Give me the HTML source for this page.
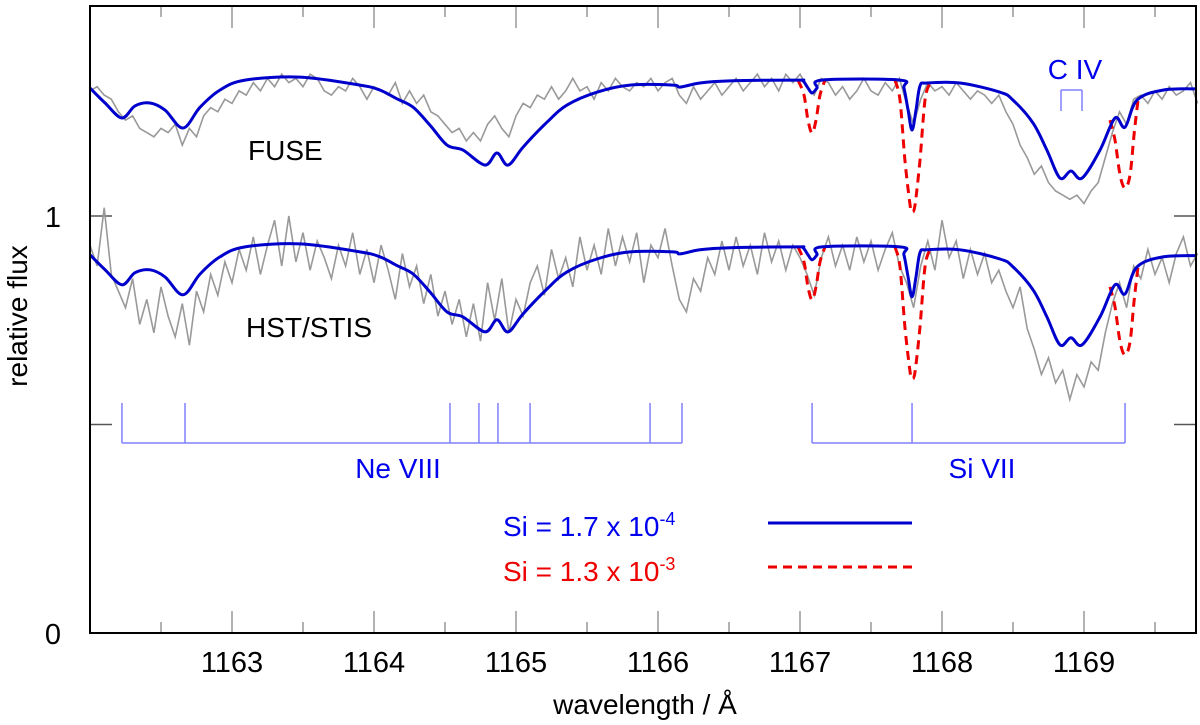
<!DOCTYPE html>
<html><head><meta charset="utf-8">
<style>
html,body{margin:0;padding:0;background:#fff;}
svg{display:block;font-family:"Liberation Sans",sans-serif;}
</style></head>
<body>
<svg id="chart" width="1200" height="725" viewBox="0 0 1200 725" xmlns="http://www.w3.org/2000/svg">
<g id="ticks"></g>
<g id="obs"></g>
<g id="markers"></g>
<g id="models"></g>
<rect x="90" y="6" width="1106" height="627" fill="none" stroke="#000" stroke-width="2"/>
<g id="labels" font-size="29" fill="#000"></g>
<text x="645" y="714" font-size="28" text-anchor="middle">wavelength / Å</text>
<text transform="translate(27,316) rotate(-90)" font-size="28" text-anchor="middle">relative flux</text>
<text x="248" y="160" font-size="28">FUSE</text>
<text x="246" y="337" font-size="28">HST/STIS</text>
<text x="398" y="478" font-size="28" fill="#0000ee" text-anchor="middle">Ne VIII</text>
<text x="982" y="478" font-size="28" fill="#0000ee" text-anchor="middle">Si VII</text>
<text x="1075" y="79" font-size="28" fill="#0000ee" text-anchor="middle">C IV</text>
<g>
<text x="503" y="536" font-size="28" fill="#0000ee">Si = 1.7 x 10<tspan dy="-11" font-size="18">-4</tspan></text>
<line x1="768" y1="523" x2="912" y2="523" stroke="#0000cc" stroke-width="3"/>
<text x="503" y="581" font-size="28" fill="#ee0000">Si = 1.3 x 10<tspan dy="-11" font-size="18">-3</tspan></text>
<line x1="768" y1="567" x2="912" y2="567" stroke="#ee0000" stroke-width="3" stroke-dasharray="9,6"/>
</g>
</svg>
<script>
const xTicks=[1163,1164,1165,1166,1167,1168,1169];
const yTickLabels=["0","1"];
const yTickValues=[0,1];
const yMinorTicks=[0.5];
const modelLambda=[1162.000,1162.106,1162.225,1162.317,1162.423,1162.528,1162.655,1162.775,1162.915,1163.092,1163.479,1163.901,1164.042,1164.162,1164.275,1164.394,1164.514,1164.627,1164.782,1164.866,1164.944,1165.049,1165.218,1165.359,1165.570,1165.803,1166.106,1166.155,1166.296,1166.507,1166.979,1167.021,1167.056,1167.085,1167.120,1167.155,1167.704,1167.732,1167.761,1167.789,1167.817,1167.845,1167.894,1168.127,1168.408,1168.500,1168.641,1168.739,1168.831,1168.908,1168.986,1169.113,1169.218,1169.289,1169.373,1169.556,1169.796];
const modelFuse=[1.307,1.271,1.235,1.264,1.271,1.254,1.211,1.261,1.302,1.326,1.333,1.314,1.302,1.281,1.261,1.218,1.170,1.158,1.122,1.151,1.122,1.165,1.225,1.266,1.297,1.314,1.314,1.309,1.319,1.324,1.326,1.324,1.307,1.295,1.307,1.326,1.326,1.307,1.254,1.206,1.254,1.312,1.319,1.319,1.297,1.278,1.223,1.158,1.091,1.108,1.091,1.158,1.235,1.213,1.278,1.302,1.305];
const modelHst=[0.907,0.871,0.835,0.864,0.871,0.854,0.811,0.861,0.902,0.926,0.933,0.914,0.902,0.881,0.861,0.818,0.770,0.758,0.722,0.751,0.722,0.765,0.825,0.866,0.897,0.914,0.914,0.909,0.919,0.924,0.926,0.924,0.907,0.895,0.907,0.926,0.926,0.907,0.854,0.806,0.854,0.912,0.919,0.919,0.897,0.878,0.823,0.758,0.691,0.708,0.691,0.758,0.835,0.813,0.878,0.902,0.905];
const redLambda=[1166.986,1167.028,1167.056,1167.085,1167.113,1167.141,1167.176,null,1167.669,1167.704,1167.739,1167.775,1167.789,1167.810,1167.845,1167.880,1167.915,null,1169.183,1169.218,1169.254,1169.289,1169.324,1169.352,1169.380];
const redFuse=[1.326,1.290,1.230,1.199,1.230,1.290,1.326,null,1.326,1.278,1.134,1.026,1.010,1.026,1.134,1.278,1.319,null,1.230,1.182,1.098,1.067,1.098,1.194,1.278];
const redHst=[0.926,0.890,0.830,0.799,0.830,0.890,0.926,null,0.926,0.878,0.734,0.626,0.610,0.626,0.734,0.878,0.919,null,0.830,0.782,0.698,0.667,0.698,0.794,0.878];
const obsLambda=[1162.00,1162.05,1162.10,1162.15,1162.20,1162.25,1162.30,1162.35,1162.40,1162.45,1162.50,1162.55,1162.60,1162.65,1162.70,1162.75,1162.80,1162.85,1162.90,1162.95,1163.00,1163.05,1163.10,1163.15,1163.20,1163.25,1163.30,1163.35,1163.40,1163.45,1163.50,1163.55,1163.60,1163.65,1163.70,1163.75,1163.80,1163.85,1163.90,1163.95,1164.00,1164.05,1164.10,1164.15,1164.20,1164.25,1164.30,1164.35,1164.40,1164.45,1164.50,1164.55,1164.60,1164.65,1164.70,1164.75,1164.80,1164.85,1164.90,1164.95,1165.00,1165.05,1165.10,1165.15,1165.20,1165.25,1165.30,1165.35,1165.40,1165.45,1165.50,1165.55,1165.60,1165.65,1165.70,1165.75,1165.80,1165.85,1165.90,1165.95,1166.00,1166.05,1166.10,1166.15,1166.20,1166.25,1166.30,1166.35,1166.40,1166.45,1166.50,1166.55,1166.60,1166.65,1166.70,1166.75,1166.80,1166.85,1166.90,1166.95,1167.00,1167.05,1167.10,1167.15,1167.20,1167.25,1167.30,1167.35,1167.40,1167.45,1167.50,1167.55,1167.60,1167.65,1167.70,1167.75,1167.80,1167.85,1167.90,1167.95,1168.00,1168.05,1168.10,1168.15,1168.20,1168.25,1168.30,1168.35,1168.40,1168.45,1168.50,1168.55,1168.60,1168.65,1168.70,1168.75,1168.80,1168.85,1168.90,1168.95,1169.00,1169.05,1169.10,1169.15,1169.20,1169.25,1169.30,1169.35,1169.40,1169.45,1169.50,1169.55,1169.60,1169.65,1169.70,1169.75,1169.80];
const obsFuse=[1.30,1.31,1.29,1.28,1.25,1.23,1.24,1.21,1.20,1.19,1.21,1.20,1.22,1.17,1.21,1.19,1.24,1.26,1.25,1.28,1.27,1.30,1.29,1.32,1.30,1.33,1.31,1.34,1.32,1.33,1.31,1.34,1.33,1.30,1.29,1.31,1.30,1.33,1.31,1.28,1.31,1.30,1.29,1.32,1.27,1.30,1.27,1.29,1.25,1.24,1.22,1.20,1.21,1.18,1.20,1.18,1.22,1.24,1.21,1.19,1.24,1.27,1.26,1.29,1.28,1.31,1.28,1.30,1.33,1.30,1.31,1.28,1.32,1.30,1.33,1.31,1.30,1.32,1.31,1.33,1.30,1.32,1.33,1.29,1.27,1.31,1.28,1.30,1.32,1.29,1.31,1.33,1.30,1.32,1.34,1.31,1.33,1.30,1.34,1.32,1.34,1.31,1.29,1.33,1.32,1.29,1.31,1.28,1.30,1.33,1.30,1.29,1.32,1.30,1.33,1.27,1.22,1.28,1.32,1.30,1.31,1.29,1.32,1.30,1.28,1.30,1.29,1.27,1.29,1.25,1.22,1.17,1.14,1.10,1.12,1.08,1.06,1.05,1.04,1.05,1.03,1.06,1.08,1.14,1.20,1.25,1.22,1.28,1.29,1.27,1.30,1.28,1.31,1.29,1.30,1.32,1.27];
const obsHst=[0.93,0.88,1.02,0.86,0.82,0.78,0.85,0.74,0.80,0.72,0.83,0.76,0.71,0.79,0.69,0.82,0.77,0.86,0.81,0.89,0.84,0.92,0.87,0.95,0.86,0.93,0.99,0.88,1.00,0.89,0.96,0.87,0.94,0.90,0.85,0.93,0.88,0.96,0.86,0.92,0.84,0.93,0.87,0.80,0.91,0.83,0.88,0.79,0.86,0.76,0.82,0.74,0.80,0.71,0.79,0.70,0.84,0.75,0.85,0.72,0.80,0.76,0.84,0.88,0.81,0.92,0.85,0.90,0.83,0.95,0.87,0.93,0.86,0.97,0.88,0.95,0.89,0.96,0.84,0.93,0.90,0.97,0.88,0.80,0.77,0.85,0.82,0.90,0.86,0.94,0.87,0.95,0.88,0.93,0.86,0.96,0.89,0.94,0.87,0.93,0.90,0.86,0.81,0.90,0.95,0.88,0.93,0.87,0.95,0.89,0.94,0.87,0.92,0.96,0.88,0.84,0.78,0.88,0.94,0.87,0.99,0.90,0.94,0.85,0.92,0.86,0.91,0.84,0.87,0.82,0.78,0.83,0.73,0.68,0.62,0.66,0.60,0.63,0.56,0.62,0.59,0.65,0.63,0.72,0.79,0.84,0.78,0.88,0.85,0.92,0.86,0.90,0.84,0.91,0.95,0.88,0.91];
const neViiiLines=[1162.225,1162.669,1164.535,1164.739,1164.873,1165.099,1165.944,1166.169];
const siViiLines=[1167.085,1167.789,1169.289];
const cIvLines=[1168.838,1168.986];

const NS="http://www.w3.org/2000/svg";
const X0=90,PXA=142,LMIN=1162,Y0=633,PXF=417;
function xs(l){return X0+(l-LMIN)*PXA;}
function ys(f){return Y0-f*PXF;}
function mk(tag,attrs,parent){const e=document.createElementNS(NS,tag);for(const k in attrs)e.setAttribute(k,attrs[k]);parent.appendChild(e);return e;}
function pathD(L,F){let d="",pen=false;for(let i=0;i<Math.min(L.length,F.length);i++){if(L[i]===null||F[i]===null){pen=false;continue;}d+=(pen?"L":"M")+xs(L[i]).toFixed(1)+","+ys(F[i]).toFixed(1);pen=true;}return d;}
function smoothD(L,F){
  const segs=[];let cur=[];
  for(let i=0;i<Math.min(L.length,F.length);i++){if(L[i]===null||F[i]===null){if(cur.length)segs.push(cur);cur=[];continue;}cur.push([xs(L[i]),ys(F[i])]);}
  if(cur.length)segs.push(cur);
  let d="";
  segs.forEach(p=>{d+="M"+p[0][0].toFixed(1)+","+p[0][1].toFixed(1);
    for(let i=0;i<p.length-1;i++){const p0=p[i>0?i-1:i],p1=p[i],p2=p[i+1],p3=p[i+2<p.length?i+2:i+1];
      const c1x=p1[0]+(p2[0]-p0[0])/6,c1y=p1[1]+(p2[1]-p0[1])/6,c2x=p2[0]-(p3[0]-p1[0])/6,c2y=p2[1]-(p3[1]-p1[1])/6;
      d+="C"+c1x.toFixed(1)+","+c1y.toFixed(1)+" "+c2x.toFixed(1)+","+c2y.toFixed(1)+" "+p2[0].toFixed(1)+","+p2[1].toFixed(1);}
  });
  return d;
}

const tg=document.getElementById('ticks'),lg=document.getElementById('labels');
for(let v=1162.5;v<1169.8;v+=0.5){
  const major=Math.abs(v-Math.round(v))<1e-6;const len=major?22:11;const x=xs(v);
  const t1=mk('line',{x1:x,y1:Y0,x2:x,y2:Y0-len,stroke:'#999','stroke-width':1.5},tg);
  
  
  const t2=mk('line',{x1:x,y1:6,x2:x,y2:6+len,stroke:'#999','stroke-width':1.5},tg);
  
  
}
xTicks.forEach(v=>{const t=mk('text',{x:xs(v),y:672,'text-anchor':'middle'},lg);t.textContent=String(v);
  
  });
yTickValues.concat(yMinorTicks).forEach(v=>{
  const a=mk('line',{x1:X0,y1:ys(v),x2:X0+22,y2:ys(v),stroke:'#555','stroke-width':1.5},tg);
  
  
  const b=mk('line',{x1:1196,y1:ys(v),x2:1174,y2:ys(v),stroke:'#555','stroke-width':1.5},tg);
  
  
});
yTickValues.forEach((v,i)=>{const t=mk('text',{x:53,y:ys(v)+11,'text-anchor':'middle'},lg);t.textContent=yTickLabels[i];
  
  });

const og=document.getElementById('obs');
const o1=mk('path',{d:pathD(obsLambda,obsFuse),fill:'none',stroke:'#999','stroke-width':1.6},og);


const o2=mk('path',{d:pathD(obsLambda,obsHst),fill:'none',stroke:'#999','stroke-width':1.6},og);



const mg=document.getElementById('markers');
function bracket(lines,top,bot,name){
  let d="M"+xs(lines[0])+","+bot+"L"+xs(lines[lines.length-1])+","+bot;
  lines.forEach(l=>{d+="M"+xs(l)+","+top+"L"+xs(l)+","+bot;});
  const p=mk('path',{d:d,fill:'none',stroke:'#8080ff','stroke-width':1.5},mg);
  
  
}
bracket(neViiiLines,403,443,'ne-viii-markers');
bracket(siViiLines,403,443,'si-vii-markers');
bracket(cIvLines,111,90,'c-iv-markers');

const mdg=document.getElementById('models');
const r1=mk('path',{d:smoothD(redLambda,redFuse),fill:'none',stroke:'#ee0000','stroke-width':3,'stroke-dasharray':'9,6'},mdg);


const r2=mk('path',{d:smoothD(redLambda,redHst),fill:'none',stroke:'#ee0000','stroke-width':3,'stroke-dasharray':'9,6'},mdg);


const b1=mk('path',{d:smoothD(modelLambda,modelFuse),fill:'none',stroke:'#0000cc','stroke-width':3,'stroke-linejoin':'round'},mdg);


const b2=mk('path',{d:smoothD(modelLambda,modelHst),fill:'none',stroke:'#0000cc','stroke-width':3,'stroke-linejoin':'round'},mdg);


</script>
</body></html>
